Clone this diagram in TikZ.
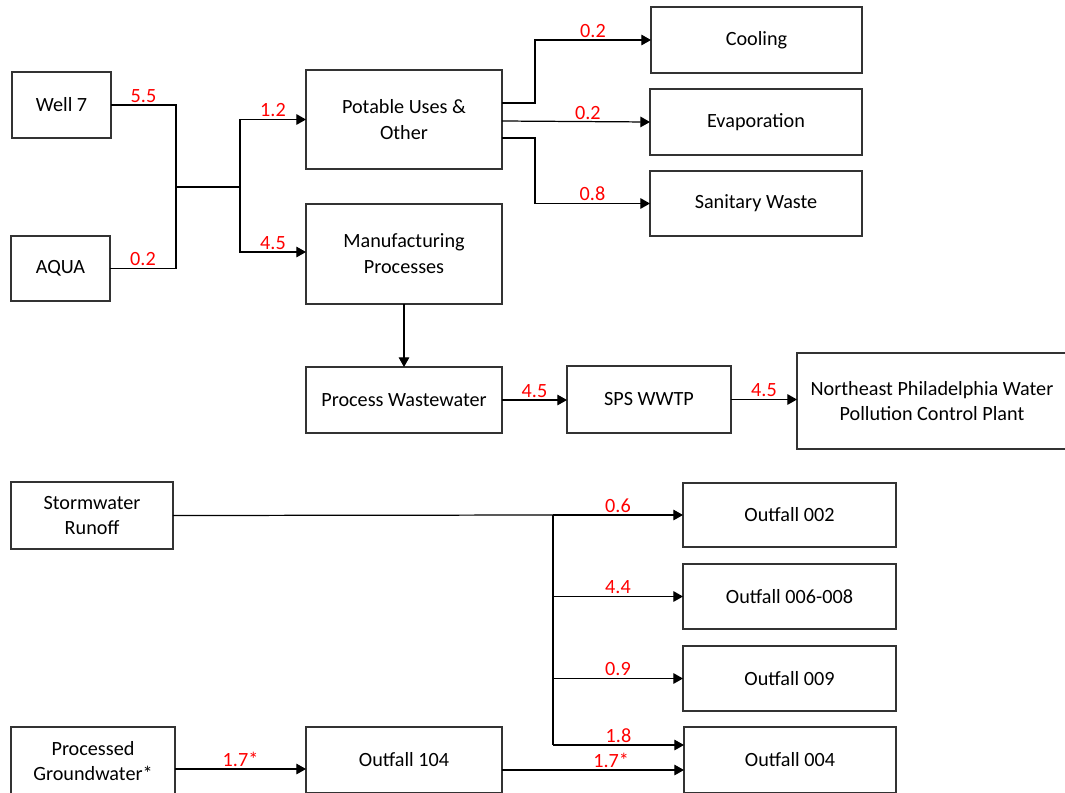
\documentclass[tikz,border=0pt]{standalone}
\usepackage{fontspec}
\setmainfont{Carlito}
\usetikzlibrary{arrows.meta}

\begin{document}
\begin{tikzpicture}[x=0.02cm, y=-0.02cm,
    box/.style={draw=black!80, line width=0.8pt, inner sep=0, outer sep=0, align=center, font=\fontsize{11.5}{14.7}\selectfont},
    flow/.style={draw=black, line width=0.7pt},
    arr/.style={flow, -{Triangle[length=5.5pt, width=6pt]}},
    qty/.style={text=red, font=\fontsize{11.5}{14}\selectfont, inner sep=1pt, above}]

        \useasboundingbox (0,0) rectangle (1065,792);

        \node[box, minimum width=1.98cm, minimum height=1.32cm] (well-7) at (61.5,105) {Well 7};

        \node[box, minimum width=1.98cm, minimum height=1.30cm] (aqua) at (60.5,268.5) {AQUA};

        \node[box, minimum width=3.92cm, minimum height=1.98cm] (potable) at (404,119.5) {Potable Uses \&\\Other};

        \node[box, minimum width=3.92cm, minimum height=2.0cm] (manuf) at (404,254) {Manufacturing\\Processes};

        \node[box, minimum width=4.22cm, minimum height=1.32cm] (cooling) at (756.5,40) {Cooling};

        \node[box, minimum width=4.24cm, minimum height=1.32cm] (evap) at (756,122) {Evaporation};

        \node[box, minimum width=4.24cm, minimum height=1.30cm] (sanitary) at (756,203.5) {Sanitary Waste};

        \node[box, minimum width=3.92cm, minimum height=1.32cm] (proc-ww) at (404,400) {Process Wastewater};

        \node[box, minimum width=3.28cm, minimum height=1.34cm] (sps) at (649,399.5) {SPS WWTP};

        \node[box, minimum width=5.4cm, minimum height=1.92cm] (ne-plant) at (932,401) {Northeast Philadelphia Water\\Pollution Control Plant};

        \node[box, minimum width=3.24cm, minimum height=1.34cm] (storm) at (92,515.5) {Stormwater\\Runoff};

        \node[box, minimum width=4.26cm, minimum height=1.28cm] (out-002) at (789.5,515) {Outfall 002};

        \node[box, minimum width=4.26cm, minimum height=1.30cm] (out-006) at (789.5,596.5) {Outfall 006-008};

        \node[box, minimum width=4.26cm, minimum height=1.30cm] (out-009) at (789.5,678.5) {Outfall 009};

        \node[box, minimum width=4.24cm, minimum height=1.32cm] (out-004) at (790,760) {Outfall 004};

        \node[box, minimum width=3.28cm, minimum height=1.36cm] (ground) at (93,761) {Processed\\Groundwater*};

        \node[box, minimum width=3.92cm, minimum height=1.32cm] (out-104) at (404,760) {Outfall 104};

        \coordinate (mix-in) at (176,187);
        \coordinate (mix-out) at (240,187);

        \draw[flow] (well-7.east) -| node[qty, pos=0.25] {5.5} (mix-in);

        \draw[flow] (aqua.east) -| node[qty, pos=0.25] {0.2} (mix-in);

        \draw[flow] (mix-in) -- (mix-out);

        \draw[arr] (mix-out) |- node[qty, pos=0.75] {1.2} (potable.west);

        \draw[arr] (mix-out) |- node[qty, pos=0.75] {4.5} ([yshift=0.04cm]manuf.west);

        \draw[arr] ([yshift=0.33cm]potable.east) -- ++(33,0) |- node[qty, pos=0.75] {0.2} (cooling.west);

        \draw[arr] ([yshift=-0.03cm]potable.east) -- node[qty, pos=0.58] {0.2} (evap.west);

        \draw[arr] ([yshift=-0.37cm]potable.east) -- ++(33,0) |- node[qty, pos=0.75] {0.8} (sanitary.west);

        \draw[arr] (manuf) -- (proc-ww);

        \draw[arr] (proc-ww.east) -- node[qty] {4.5} (proc-ww.east -| sps.west);

        \draw[arr] (sps.east) -- node[qty] {4.5} (sps.east -| ne-plant.west);

        \coordinate (split-top) at (553,515);
        \coordinate (split-bot) at (553,745);

        \draw[flow] (storm.east) -- (split-top);

        \draw[arr] (split-top) -- node[qty] {0.6} (out-002.west);

        \draw[flow] (split-top) -- (split-bot);

        \draw[arr] (split-top |- out-006.west) -- node[qty] {4.4} (out-006.west);

        \draw[arr] (split-top |- out-009.west) -- node[qty] {0.9} (out-009.west);

        \draw[arr] (split-bot) -- node[qty] {1.8} (split-bot -| out-004.west);

        \path ([yshift=-0.16cm]ground.east) coordinate (ground-out);
        \path ([yshift=-0.2cm]out-104.east) coordinate (o104-out);

        \draw[arr] (ground-out) -- node[qty] {1.7*} (ground-out -| out-104.west);

        \draw[arr] (o104-out) -- node[qty, pos=0.6] {1.7*} (o104-out -| out-004.west);
      \end{tikzpicture}
\end{document}
